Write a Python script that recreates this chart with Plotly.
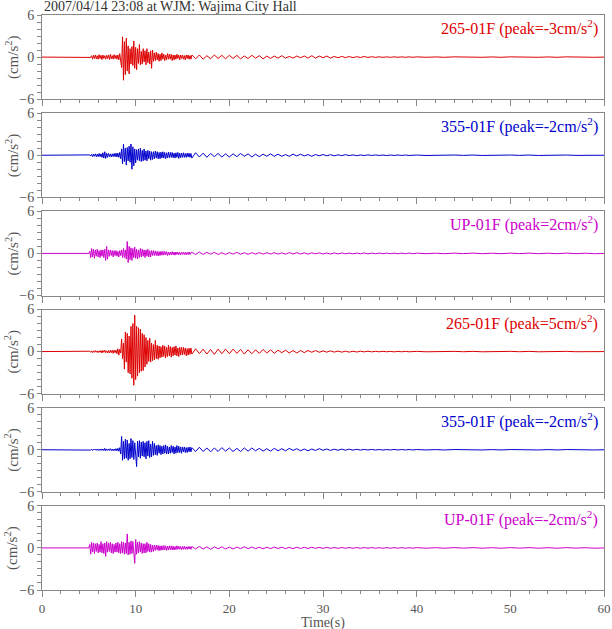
import numpy as np
import plotly.graph_objects as go
from plotly.subplots import make_subplots

TITLE = "2007/04/14 23:08 at WJM: Wajima City Hall"
LABELS = ["265-01F (peak=-3cm/s<sup>2</sup>)", "355-01F (peak=-2cm/s<sup>2</sup>)",
          "UP-01F (peak=2cm/s<sup>2</sup>)", "265-01F (peak=5cm/s<sup>2</sup>)",
          "355-01F (peak=-2cm/s<sup>2</sup>)", "UP-01F (peak=-2cm/s<sup>2</sup>)"]
COLORS = ["#dd0000", "#0000cc", "#cc00cc", "#dd0000", "#0000cc", "#cc00cc"]

# time grids (s)
T_PRE = [0.0, 4.9]
T_STRONG = np.round(np.arange(5.0, 15.95, 0.1), 2)   # 110 samples
T_CODA = np.round(np.arange(16.0, 39.9, 0.4), 2)     # 60 samples
T_TAIL = np.arange(40.0, 60.5, 1.0)                  # 21 samples

PRE = [0.0, 0.0]

# ---- trace 1 : 265-01F (peak -3) ----
S1 = [0.0, 0.05, -0.05, 0.2, -0.3, 0.25, -0.2, 0.3, -0.25, 0.2,
      -0.3, 0.35, -0.2, 0.25, -0.35, 0.3, -0.2, 0.2, -0.3, 0.25,
      -0.2, 0.3, -0.35, 0.4, -0.25, 0.2, -0.3, 0.35, -0.2, 0.25,
      -0.3, 0.3, -0.4, 0.5, -0.6, -1.5, 2.9, -3.3, 2.2, -2.5,
      2.7, -2.0, 1.6, -2.4, 1.2, -1.0, 1.5, -1.2, 2.3, -1.6,
      1.4, -1.8, 1.2, -0.9, 1.8, -1.1, 0.8, -1.0, 1.2, -0.7,
      0.9, -1.1, 1.2, -0.8, 0.7, -1.0, 0.9, -1.6, 1.0, -0.6,
      0.6, -0.5, 0.7, -0.4, 0.5, -0.6, 0.4, -0.5, 0.6, -0.3,
      0.4, -0.5, 0.3, -0.4, 0.5, -0.3, 0.4, -0.3, 0.4, -0.5,
      0.3, -0.4, 0.3, -0.3, 0.4, -0.2, 0.3, -0.4, 0.3, -0.2,
      0.3, -0.3, 0.2, -0.4, 0.3, -0.2, 0.3, -0.3, 0.2, -0.3]
C1 = [0.3, -0.25, 0.3, -0.3, 0.2, -0.25, 0.3, -0.2, 0.25, -0.25,
      0.25, -0.2, 0.25, -0.25, 0.15, -0.2, 0.25, -0.15, 0.2, -0.25,
      0.15, -0.2, 0.15, -0.15, 0.2, -0.15, 0.1, -0.15, 0.15, -0.1,
      0.15, -0.15, 0.2, -0.15, 0.15, -0.1, 0.15, -0.15, 0.1, -0.1,
      0.1, -0.08, 0.08, -0.08, 0.06, -0.06, 0.08, -0.05, 0.05, -0.04,
      0.04, -0.04, 0.03, -0.04, 0.04, -0.03, 0.03, -0.03, 0.03, -0.03]

# ---- trace 2 : 355-01F (peak -2) ----
S2 = [0.0, 0.05, -0.1, 0.15, -0.2, 0.15, -0.15, 0.2, -0.2, 0.15,
      -0.2, 0.25, -0.2, 0.2, -0.3, 0.35, -0.4, 0.5, -0.45, 0.3,
      -0.3, 0.25, -0.2, 0.2, -0.25, 0.2, -0.2, 0.25, -0.2, 0.3,
      -0.25, 0.3, -0.3, 0.4, -0.5, 0.9, -1.2, 1.6, -0.9, 1.0,
      -1.4, 1.1, -0.8, 1.3, -1.0, 1.6, -2.0, 1.2, -1.5, 0.9,
      -1.1, 0.8, -0.7, 0.9, -0.8, 1.0, -0.9, 0.7, -0.8, 0.9,
      -0.7, 0.6, -0.8, 0.7, -0.5, 0.6, -0.7, 0.5, -0.6, 0.5,
      -0.5, 0.6, -0.4, 0.5, -0.5, 0.4, -0.5, 0.45, -0.4, 0.5,
      -0.4, 0.4, -0.5, 0.35, -0.4, 0.45, -0.35, 0.4, -0.3, 0.4,
      -0.35, 0.3, -0.4, 0.35, -0.3, 0.4, -0.45, 0.3, -0.35, 0.3,
      -0.3, 0.35, -0.3, 0.25, -0.3, 0.3, -0.25, 0.3, -0.3, 0.25]
C2 = [-0.4, 0.35, -0.25, 0.3, -0.3, 0.25, -0.2, 0.25, -0.25, 0.2,
      -0.25, 0.2, -0.2, 0.25, -0.15, 0.2, -0.25, 0.15, -0.2, 0.15,
      -0.15, 0.2, -0.15, 0.15, -0.15, 0.1, -0.15, 0.15, -0.1, 0.15,
      -0.1, 0.1, -0.15, 0.1, -0.08, 0.1, -0.08, 0.08, -0.08, 0.06,
      -0.06, 0.08, -0.05, 0.05, -0.06, 0.04, -0.04, 0.05, -0.03, 0.04,
      -0.03, 0.03, -0.04, 0.03, -0.03, 0.03, -0.03, 0.03, -0.03, 0.03]

# ---- trace 3 : UP-01F (peak 2) ----
S3 = [0.0, 0.3, -0.6, 0.7, -0.5, 0.6, -0.7, 0.5, -0.4, 0.6,
      -0.5, 0.4, -0.6, 0.5, -0.4, 0.5, -0.6, 0.6, -1.0, 1.0,
      -0.8, 0.5, -0.4, 0.5, -0.3, 0.4, -0.5, 0.4, -0.3, 0.4,
      -0.4, 0.3, -0.5, 0.4, -0.3, 0.5, -0.6, 0.7, -0.6, 0.5,
      -0.8, 1.7, -1.3, 1.0, -0.9, 0.8, -1.0, 0.7, -0.6, 0.9,
      -0.7, 0.6, -0.8, 0.5, -0.6, 0.7, -0.5, 0.6, -0.4, 0.5,
      -0.6, 0.5, -0.4, 0.6, -0.5, 0.4, -0.5, 0.4, -0.3, 0.4,
      -0.3, 0.35, -0.3, 0.3, -0.35, 0.25, -0.3, 0.3, -0.25, 0.3,
      -0.25, 0.3, -0.2, 0.25, -0.3, 0.2, -0.25, 0.2, -0.2, 0.25,
      -0.2, 0.2, -0.25, 0.2, -0.15, 0.2, -0.2, 0.15, -0.2, 0.15,
      -0.15, 0.2, -0.15, 0.15, -0.2, 0.15, -0.15, 0.2, -0.15, 0.15]
C3 = [0.15, -0.15, 0.2, -0.15, 0.15, -0.1, 0.15, -0.15, 0.1, -0.15,
      0.12, -0.1, 0.15, -0.12, 0.1, -0.12, 0.1, -0.1, 0.12, -0.1,
      0.1, -0.08, 0.1, -0.1, 0.08, -0.1, 0.12, -0.08, 0.1, -0.08,
      0.08, -0.1, 0.08, -0.06, 0.08, -0.08, 0.06, -0.08, 0.06, -0.06,
      0.06, -0.06, 0.05, -0.06, 0.05, -0.05, 0.06, -0.05, 0.04, -0.05,
      0.05, -0.04, 0.05, -0.04, 0.04, -0.05, 0.04, -0.04, 0.05, -0.04]

# ---- trace 4 : 265-01F (peak 5) ----
S4 = [0.0, 0.05, -0.1, 0.1, -0.15, 0.1, -0.1, 0.15, -0.1, 0.1,
      -0.15, 0.1, -0.1, 0.15, -0.2, 0.15, -0.1, 0.2, -0.15, 0.1,
      -0.2, 0.15, -0.2, 0.2, -0.15, 0.2, -0.25, 0.2, -0.15, 0.2,
      -0.3, 0.4, -0.5, 0.3, -0.2, 1.8, -1.0, 1.2, -2.5, 2.8,
      -1.5, 2.6, -3.0, 2.2, -3.2, 3.6, -3.8, 4.0, -4.8, 5.2,
      -4.0, 3.6, -3.5, 3.4, -3.0, 3.2, -2.8, 2.6, -2.7, 2.4,
      -2.2, 2.0, -1.8, 1.6, -1.4, 1.9, -1.5, 1.2, -1.3, 1.0,
      -1.2, 1.6, -1.0, 0.9, -1.1, 0.8, -0.9, 0.7, -0.8, 0.9,
      -0.7, 0.8, -0.9, 0.6, -0.7, 0.9, -0.6, 0.7, -0.8, 0.6,
      -0.6, 0.7, -0.5, 0.8, -0.6, 0.5, -0.7, 0.6, -0.5, 0.6,
      -0.5, 0.6, -0.4, 0.5, -0.6, 0.4, -0.5, 0.5, -0.4, 0.5]
C4 = [-0.35, 0.4, -0.3, 0.35, -0.35, 0.3, -0.4, 0.35, -0.3, 0.35,
      -0.3, 0.35, -0.25, 0.3, -0.35, 0.25, -0.3, 0.25, -0.25, 0.3,
      -0.2, 0.25, -0.25, 0.2, -0.15, 0.2, -0.2, 0.15, -0.2, 0.15,
      -0.15, 0.15, -0.1, 0.15, -0.1, 0.1, -0.08, 0.1, -0.08, 0.08,
      -0.08, 0.06, -0.08, 0.05, -0.06, 0.05, -0.04, 0.05, -0.04, 0.04,
      -0.03, 0.04, -0.03, 0.03, -0.04, 0.03, -0.03, 0.03, -0.03, 0.03]

# ---- trace 5 : 355-01F (peak -2) ----
S5 = [0.0, 0.05, -0.05, 0.08, -0.1, 0.08, -0.05, 0.1, -0.08, 0.1,
      -0.1, 0.08, -0.1, 0.1, -0.08, 0.1, -0.12, 0.2, -0.15, 0.1,
      -0.1, 0.12, -0.1, 0.15, -0.12, 0.1, -0.15, 0.1, -0.12, 0.15,
      -0.15, 0.2, -0.2, 0.3, -0.6, 1.9, -1.5, 1.2, -1.3, 1.5,
      -1.2, 1.4, -1.5, 0.9, -1.3, 1.6, -1.1, 1.3, -1.4, 1.0,
      -1.2, -2.4, 1.2, -1.0, 1.3, -1.2, 1.1, -0.9, 1.2, -1.0,
      1.0, -1.3, 1.2, -0.9, 1.3, -1.1, 0.8, -1.0, 1.2, -0.8,
      0.9, -0.7, 0.6, -0.8, 0.7, -0.5, 0.6, -0.7, 0.5, -0.6,
      0.6, -0.5, 0.7, -0.6, 0.5, -0.6, 0.4, -0.5, 0.6, -0.4,
      0.5, -0.6, 0.4, -0.5, 0.6, -0.4, 0.5, -0.4, 0.4, -0.5,
      0.4, -0.3, 0.4, -0.4, 0.3, -0.4, 0.35, -0.3, 0.4, -0.3]
C5 = [0.3, -0.25, 0.35, -0.25, 0.25, -0.3, 0.25, -0.25, 0.3, -0.2,
      0.25, -0.25, 0.2, -0.25, 0.25, -0.2, 0.25, -0.15, 0.2, -0.2,
      0.15, -0.2, 0.2, -0.15, 0.15, -0.15, 0.2, -0.1, 0.15, -0.15,
      0.1, -0.15, 0.1, -0.1, 0.15, -0.08, 0.1, -0.1, 0.08, -0.08,
      0.08, -0.06, 0.08, -0.05, 0.06, -0.05, 0.05, -0.04, 0.05, -0.04,
      0.03, -0.04, 0.03, -0.03, 0.04, -0.03, 0.03, -0.03, 0.03, -0.03]

# ---- trace 6 : UP-01F (peak -2) ----
S6 = [0.0, 0.5, -0.9, 0.8, -0.6, 0.7, -0.8, 0.6, -0.5, 0.7,
      -0.7, 0.5, -0.6, 0.9, -0.7, 0.6, -0.8, 0.7, -1.2, 0.9,
      -0.6, 0.7, -0.5, 0.8, -0.7, 0.6, -0.8, 0.5, -0.6, 0.7,
      -0.6, 0.8, -0.7, 0.6, -0.8, 0.9, -0.7, 0.8, -0.9, 0.7,
      -0.8, 2.0, -1.0, 0.8, -0.9, 1.0, -0.8, 0.9, -1.1, -2.2,
      1.2, -0.9, 0.8, -0.7, 0.9, -0.6, 0.7, -0.8, 0.6, -0.7,
      0.6, -0.7, 0.8, -0.5, 0.6, -0.6, 0.5, -0.6, 0.4, -0.5,
      0.4, -0.35, 0.4, -0.3, 0.35, -0.4, 0.3, -0.35, 0.3, -0.3,
      0.35, -0.3, 0.3, -0.35, 0.25, -0.3, 0.3, -0.25, 0.3, -0.3,
      0.25, -0.3, 0.2, -0.25, 0.3, -0.2, 0.25, -0.2, 0.2, -0.25,
      0.2, -0.2, 0.25, -0.2, 0.15, -0.2, 0.2, -0.15, 0.2, -0.2]
C6 = [0.2, -0.15, 0.2, -0.15, 0.15, -0.2, 0.15, -0.12, 0.15, -0.15,
      0.12, -0.15, 0.12, -0.1, 0.15, -0.1, 0.12, -0.1, 0.1, -0.12,
      0.1, -0.1, 0.12, -0.08, 0.1, -0.1, 0.08, -0.1, 0.1, -0.08,
      0.08, -0.08, 0.1, -0.06, 0.08, -0.06, 0.08, -0.06, 0.06, -0.06,
      0.06, -0.05, 0.06, -0.05, 0.05, -0.06, 0.05, -0.04, 0.05, -0.05,
      0.04, -0.05, 0.04, -0.04, 0.05, -0.04, 0.04, -0.04, 0.03, -0.04]

TAIL_H = [0.03, -0.03, 0.02, -0.03, 0.03, -0.02, 0.03, -0.03, 0.02, -0.03, 0.03,
          -0.02, 0.03, -0.03, 0.02, -0.03, 0.03, -0.02, 0.02, -0.03, 0.0]
TAIL_UP = [0.04, -0.04, 0.03, -0.04, 0.04, -0.03, 0.04, -0.04, 0.03, -0.04, 0.04,
           -0.03, 0.04, -0.04, 0.03, -0.04, 0.04, -0.03, 0.03, -0.04, 0.0]

STRONG = [S1, S2, S3, S4, S5, S6]
CODA = [C1, C2, C3, C4, C5, C6]
TAILS = [TAIL_H, TAIL_H, TAIL_UP, TAIL_H, TAIL_H, TAIL_UP]

# ---------------- figure ----------------
W, H = 612, 629
ML, MR, MT, MB = 42, 8, 15, 39
PW = W - ML - MR
PH = H - MT - MB
GAP = 14
PANEL = (PH - 5 * GAP) / 6

fig = make_subplots(rows=6, cols=1, vertical_spacing=GAP / PH)

t_all = np.concatenate([T_PRE, T_STRONG, T_CODA, T_TAIL])
for i in range(6):
    y_all = np.concatenate([PRE, STRONG[i], CODA[i], TAILS[i]])
    fig.add_trace(go.Scatter(x=t_all, y=y_all, mode="lines",
                             line=dict(color=COLORS[i], width=1),
                             showlegend=False, hoverinfo="skip"),
                  row=i + 1, col=1)

FONT = "Liberation Serif, Times New Roman, serif"
AX = "#888888"
TXT = "#555555"

for i in range(6):
    fig.update_xaxes(row=i + 1, col=1, range=[0, 60], tickvals=[0, 10, 20, 30, 40, 50, 60],
                     ticks="outside", ticklen=6, tickcolor=AX, tickwidth=1,
                     minor=dict(dtick=2, ticks="outside", ticklen=3, tickcolor=AX, tickwidth=1),
                     showline=True, linecolor=AX, linewidth=1, mirror=True,
                     showgrid=False, zeroline=False, automargin=False,
                     showticklabels=(i == 5), ticklabelstandoff=0,
                     tickfont=dict(family=FONT, size=13, color=TXT))
    fig.update_yaxes(row=i + 1, col=1, range=[-6, 6], tickvals=[-6, 0, 6],
                     ticks="outside", ticklen=4, tickcolor=AX, tickwidth=1,
                     minor=dict(dtick=1, ticks="outside", ticklen=4, tickcolor=AX, tickwidth=1),
                     showline=True, linecolor=AX, linewidth=1, mirror=True,
                     showgrid=False, zeroline=False, automargin=False,
                     tickfont=dict(family=FONT, size=14, color=TXT))

annotations = [dict(text=TITLE, xref="paper", yref="paper", x=0, y=1, xanchor="left",
                    yanchor="bottom", yshift=-1, showarrow=False,
                    font=dict(family=FONT, size=14, color="#333333")),
               dict(text="Time(s)", xref="paper", yref="paper", x=0.5, y=0,
                    xanchor="center", yanchor="top", yshift=-23, showarrow=False,
                    font=dict(family=FONT, size=14, color=TXT))]
for i in range(6):
    top = 1 - i * (PANEL + GAP) / PH
    annotations.append(dict(text=LABELS[i], xref="paper", yref="paper",
                            x=1 - 4 / PW, y=top, xanchor="right", yanchor="top",
                            yshift=0, showarrow=False,
                            font=dict(family=FONT, size=16, color=COLORS[i])))
    annotations.append(dict(text="(cm/s<sup>2</sup>)", xref="paper", yref="paper",
                            x=-30 / PW, y=top - (PANEL / 2) / PH, xanchor="center",
                            yanchor="middle", textangle=-90, showarrow=False,
                            font=dict(family=FONT, size=15, color=TXT)))

fig.update_layout(width=W, height=H, margin=dict(l=ML, r=MR, t=MT, b=MB, autoexpand=False),
                  plot_bgcolor="white", paper_bgcolor="white",
                  annotations=annotations, showlegend=False)

fig.write_html("out.html", config={"displayModeBar": False},
               post_script="document.body.style.margin='0';document.body.style.padding='0';")
